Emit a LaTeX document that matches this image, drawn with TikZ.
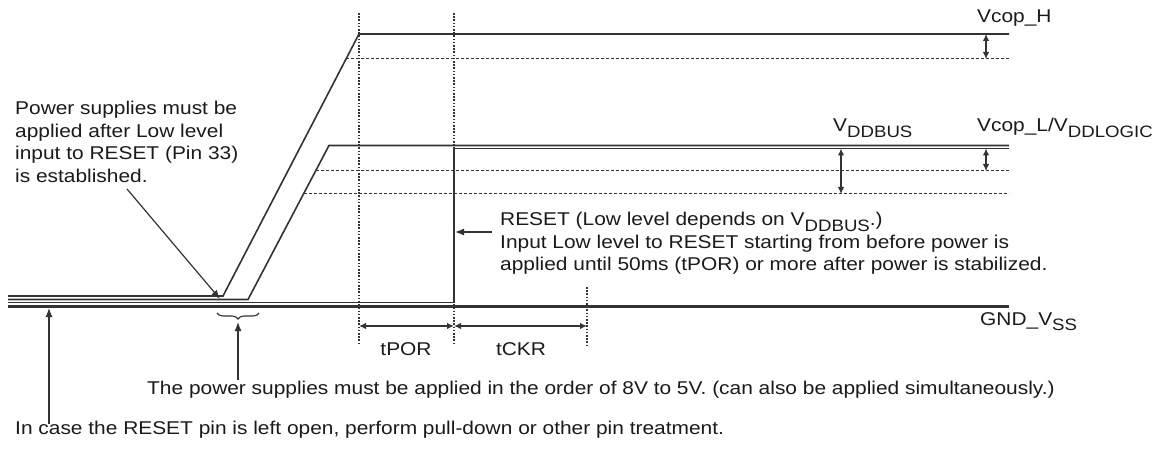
\documentclass[tikz,border=0pt]{standalone}
\usepackage{fontspec}
\setmainfont[FakeStretch=1.13]{Liberation Sans}
\usetikzlibrary{arrows.meta,decorations.pathreplacing}
\definecolor{ln}{HTML}{333333}
\definecolor{txt}{HTML}{1A1A1A}
\newcommand{\lowsub}[1]{\raisebox{-5.5pt}{\fontsize{16.5}{16.5}\selectfont #1}}

\begin{document}
\begin{tikzpicture}[x=1pt,y=-1pt,
  sig/.style={draw=ln,line width=1.6pt},
  gnd/.style={draw=ln,line width=3pt},
  tgrid/.style={draw=ln,line width=1.1pt,dash pattern=on 1.6pt off 1.6pt},
  lvl/.style={draw=ln,line width=1pt,dash pattern=on 3pt off 2pt},
  tip/.style={draw=ln,line width=1.2pt,-{Latex[length=9pt,width=7pt]}},
  dtip/.style={draw=ln,line width=1.2pt,{Latex[length=7pt,width=6.5pt]}-{Latex[length=7pt,width=6.5pt]}},
  note/.style={text=txt,align=left,font=\fontsize{18.5}{22.5}\selectfont}]
\tikzstyle{every node}+=[inner sep=0pt]
\useasboundingbox (0,0) rectangle (1175,457);

\draw[sig] (8,296) -- (223,296) -- (359,34) -- (1009,34);
\draw[sig] (8,299.5) -- (248,299.5) -- (329,145.5) -- (1009,145.5);
\draw[sig] (8,302.5) -- (454,302.5) -- (454,148.5) -- (1009,148.5);
\draw[gnd] (8,306) -- (1009,306);

\draw[tgrid] (359,13) -- (359,345);
\draw[tgrid] (454,13) -- (454,345);
\draw[tgrid] (587,287) -- (587,345);
\draw[lvl] (346,59) -- (1009,59);
\draw[lvl] (316,171) -- (1009,171);
\draw[lvl] (304,194) -- (1009,194);

\coordinate (hitop) at (986,34);
\coordinate (hibot) at (986,59);
\coordinate (lotop) at (986,148.5);
\coordinate (lobot) at (986,171);
\coordinate (bustop) at (841,148.5);
\coordinate (busbot) at (841,194);
\draw[dtip] (hitop) -- (hibot);
\draw[dtip] (lotop) -- (lobot);
\draw[dtip] (bustop) -- (busbot);

\coordinate (porstart) at (359,326);
\coordinate (porend) at (454,326);
\coordinate (ckrend) at (587,326);
\draw[dtip] (porstart) -- (porend);
\draw[dtip] (porend) -- (ckrend);
\node[note] (tpor) at (406,349) {tPOR};
\node[note] (tckr) at (521,349) {tCKR};

\node[note,anchor=base west] (vhigh) at (977,23) {Vcop\_H};
\node[note,anchor=base west] (vbus) at (833,132) {V\lowsub{DDBUS}};
\node[note,anchor=base west] (vlow) at (977,132) {Vcop\_L/V\lowsub{DDLOGIC}};
\node[note,anchor=base west] (vgnd) at (980,325) {GND\_V\lowsub{SS}};

\node[note,anchor=north west] (pwrnote) at (15,101)
  {Power supplies must be\\applied after Low level\\input to RESET (Pin 33)\\is established.};
\coordinate (pwrtail) at (127,189);
\coordinate (pwrhead) at (220,299);
\draw[tip] (pwrtail) -- (pwrhead);

\node[note,anchor=north west] (rstnote) at (500,212)
  {RESET (Low level depends on V\lowsub{DDBUS}.)\\Input Low level to RESET starting from before power is\\applied until 50ms (tPOR) or more after power is stabilized.};
\coordinate (rsttail) at (492,232);
\coordinate (rsthead) at (455,232);
\draw[tip] (rsttail) -- (rsthead);

\coordinate (brl) at (217,313);
\coordinate (brr) at (259,313);
\draw[draw=ln,line width=1.1pt,decorate,decoration={brace,mirror,amplitude=6pt}] (brl) -- (brr);
\node[note,anchor=west] (ordnote) at (147,390)
  {The power supplies must be applied in the order of 8V to 5V. (can also be applied simultaneously.)};
\coordinate (ordtail) at (238,380);
\coordinate (ordhead) at (238,322);
\draw[tip] (ordtail) -- (ordhead);

\node[note,anchor=west] (opennote) at (15,430)
  {In case the RESET pin is left open, perform pull-down or other pin treatment.};
\coordinate (opentail) at (49,424);
\coordinate (openhead) at (49,308);
\draw[tip] (opentail) -- (openhead);
\end{tikzpicture}
\end{document}
